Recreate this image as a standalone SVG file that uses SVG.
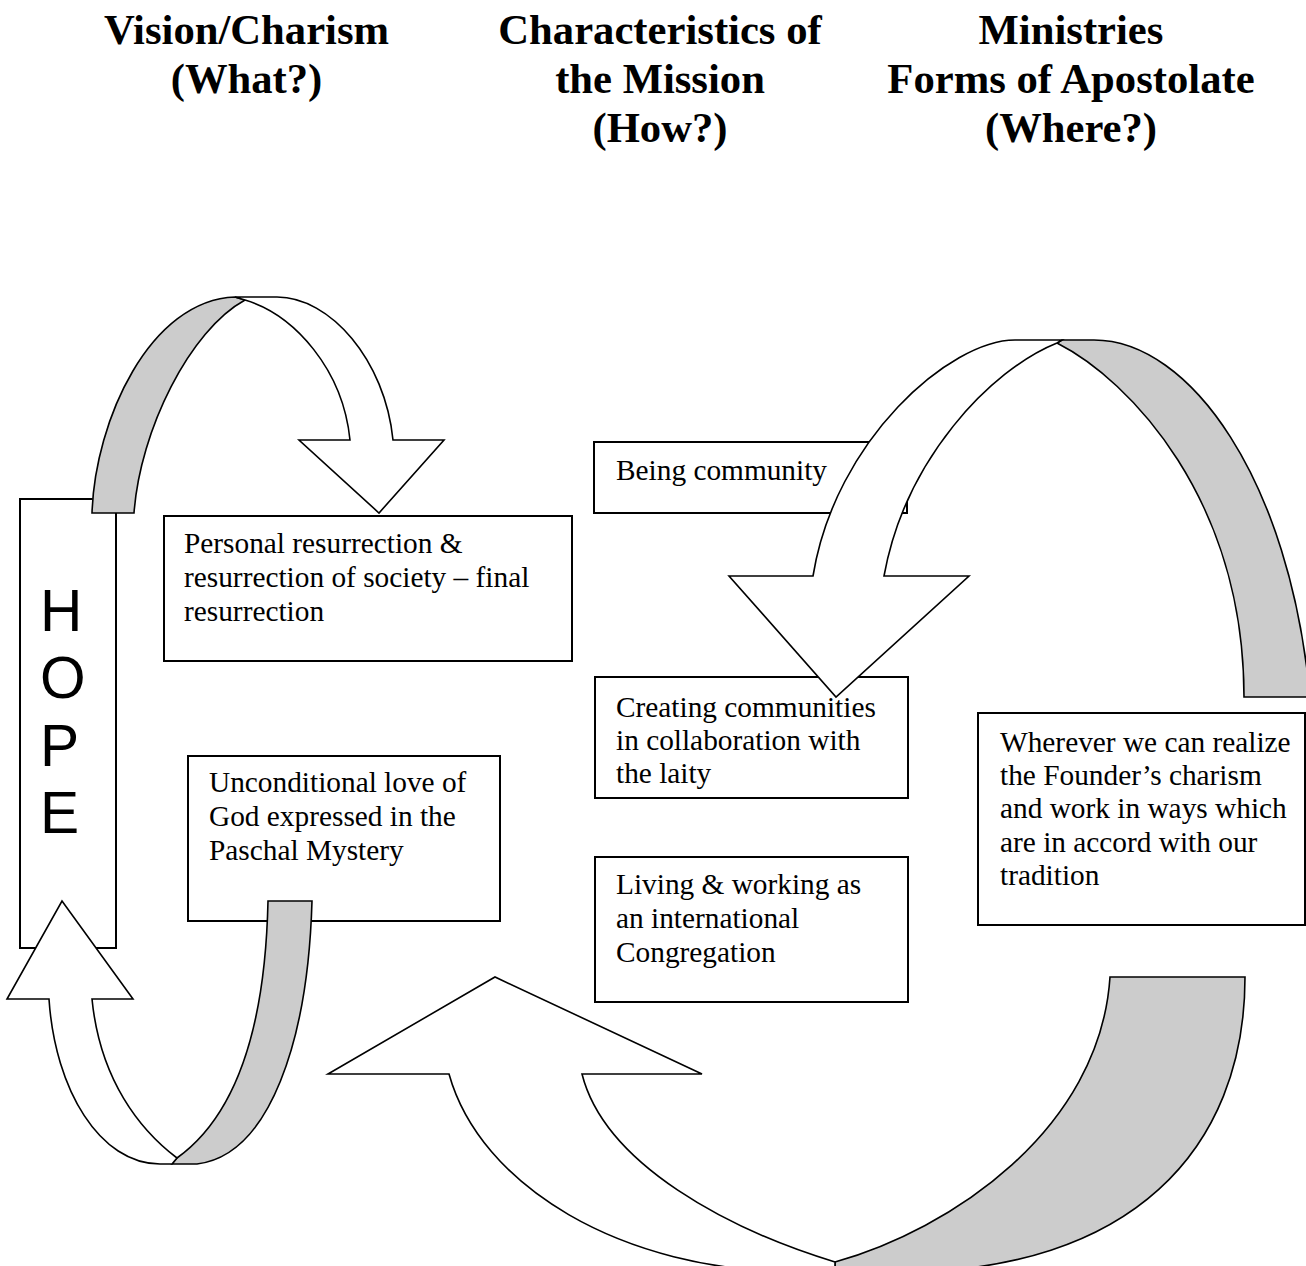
<svg xmlns="http://www.w3.org/2000/svg" width="1306" height="1266" viewBox="0 0 1306 1266">
<style>
.hdr{font-family:"Liberation Serif","Times New Roman",serif;font-weight:bold;font-size:42.67px;fill:#000;text-anchor:middle}
.txt{font-family:"Liberation Serif","Times New Roman",serif;font-size:29.33px;fill:#000}
.hope{font-family:"Liberation Sans",Arial,sans-serif;font-size:58.67px;fill:#000}
.box{fill:#fff;stroke:#000;stroke-width:2}
.front{fill:#fff;stroke:#000;stroke-width:1.6;stroke-linejoin:miter}
.back{fill:#cccccc;stroke:#000;stroke-width:1.6;stroke-linejoin:miter}
</style>
<rect width="1306" height="1266" fill="#fff"/>
<g id="headers">
<text class="hdr" x="246.5" y="44">Vision/Charism</text>
<text class="hdr" x="246.5" y="93">(What?)</text>
<text class="hdr" x="660" y="44">Characteristics of</text>
<text class="hdr" x="660" y="93">the Mission</text>
<text class="hdr" x="660" y="142">(How?)</text>
<text class="hdr" x="1071" y="44">Ministries</text>
<text class="hdr" x="1071" y="93">Forms of Apostolate</text>
<text class="hdr" x="1071" y="142">(Where?)</text>
</g>
<g id="hope">
<rect class="box" x="20" y="499" width="96" height="449"/>
<text class="hope" x="40" y="631">H</text>
<text class="hope" x="40" y="698">O</text>
<text class="hope" x="40" y="766">P</text>
<text class="hope" x="40" y="833">E</text>
</g>
<g id="personal">
<rect class="box" x="164" y="516" width="408" height="145"/>
<text class="txt" x="184" y="553">Personal resurrection &amp;</text>
<text class="txt" x="184" y="587">resurrection of society – final</text>
<text class="txt" x="184" y="621">resurrection</text>
</g>
<g id="unconditional">
<rect class="box" x="188" y="756" width="312" height="165"/>
<text class="txt" x="209" y="792">Unconditional love of</text>
<text class="txt" x="209" y="826">God expressed in the</text>
<text class="txt" x="209" y="860">Paschal Mystery</text>
</g>
<g id="being">
<rect class="box" x="594" y="442" width="313" height="71"/>
<text class="txt" x="616" y="480">Being community</text>
</g>
<g id="creating">
<rect class="box" x="595" y="677" width="313" height="121"/>
<text class="txt" x="616" y="717">Creating communities</text>
<text class="txt" x="616" y="750">in collaboration with</text>
<text class="txt" x="616" y="783">the laity</text>
</g>
<g id="living">
<rect class="box" x="595" y="857" width="313" height="145"/>
<text class="txt" x="616" y="894">Living &amp; working as</text>
<text class="txt" x="616" y="928">an international</text>
<text class="txt" x="616" y="962">Congregation</text>
</g>
<g id="wherever">
<rect class="box" x="978" y="713" width="327" height="212"/>
<text class="txt" x="1000" y="752">Wherever we can realize</text>
<text class="txt" x="1000" y="785">the Founder’s charism</text>
<text class="txt" x="1000" y="818">and work in ways which</text>
<text class="txt" x="1000" y="852">are in accord with our</text>
<text class="txt" x="1000" y="885">tradition</text>
</g>
<g id="connectors">
<!-- top-left curved arrow -->
<path class="back" d="M92,513 C95,420 150,300 235,297 L245,300 C190,330 140,430 134,513 Z"/>
<path class="front" d="M235,297 L277,297 C330,297 385,360 393,440 L444,440 L379,513 L299,440 L350,440 C343,370 295,315 245,300 Z"/>
<!-- top-right curved arrow -->
<path class="back" d="M1062,340 L1094,340 C1190,340 1290,480 1310,697 L1244,697 C1244,500 1130,380 1057,343 Z"/>
<path class="front" d="M813,576 C835,440 950,340 1015,340 L1062,340 L1057,343 C990,370 905,460 884,576 L969,576 L836,697 L729,576 Z"/>
<!-- bottom-left curved arrow -->
<path class="back" d="M172,1164 L197,1164 C270,1155 308,1040 312,901 L268,901 C265,1040 230,1120 177,1158 Z"/>
<path class="front" d="M49,999 C55,1090 100,1164 160,1164 L172,1164 L177,1158 C140,1130 100,1080 92,999 L133,999 L62,901 L7,999 Z"/>
<!-- bottom curved arrow -->
<path class="back" d="M835,1262 C950,1230 1100,1130 1110,977 L1245,977 C1245,1150 1130,1272 900,1272 L835,1272 Z"/>
<path class="front" d="M449,1074 C480,1185 620,1272 800,1272 L835,1272 L835,1262 C730,1230 605,1165 582,1074 L702,1074 L495,977 L328,1074 Z"/>
</g>
</svg>
